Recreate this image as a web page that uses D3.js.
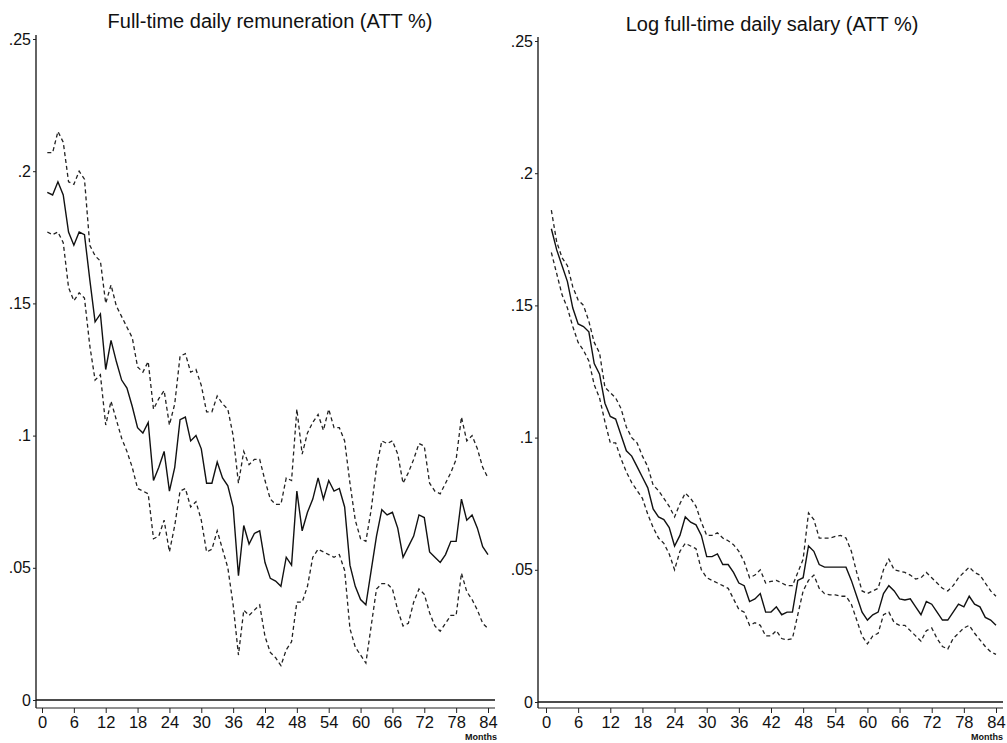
<!DOCTYPE html>
<html>
<head>
<meta charset="utf-8">
<script src="https://cdn.jsdelivr.net/npm/d3@7"></script>
<style>
  html, body { margin: 0; padding: 0; background: #fff; }
  svg { display: block; }
  text { font-family: "Liberation Sans", Arial, Helvetica, sans-serif; fill: #111; }
</style>
</head>
<body>
<svg id="chart" width="1007" height="743"></svg>
<script>
// ---------- DATA ----------
const months = [1,2,3,4,5,6,7,8,9,10,11,12,13,14,15,16,17,18,19,20,21,22,23,24,25,26,27,28,29,30,
  31,32,33,34,35,36,37,38,39,40,41,42,43,44,45,46,47,48,49,50,51,52,53,54,55,56,57,58,59,60,
  61,62,63,64,65,66,67,68,69,70,71,72,73,74,75,76,77,78,79,80,81,82,83,84];
const xTickValues = [0,6,12,18,24,30,36,42,48,54,60,66,72,78,84];
const yTickValues = [0,0.05,0.1,0.15,0.2,0.25];
const titles = ["Full-time daily remuneration (ATT %)", "Log full-time daily salary (ATT %)"];
const xAxisLabel = "Months";

// Left panel: Full-time daily remuneration
const remEst = [0.192,0.191,0.196,0.191,0.177,0.172,0.177,0.176,0.159,0.143,0.146,0.125,0.136,0.128,0.121,0.118,0.111,0.103,0.101,0.105,
  0.083,0.088,0.094,0.079,0.088,0.106,0.107,0.098,0.100,0.095,0.082,0.082,0.090,0.084,0.081,0.073,0.047,0.066,0.059,0.063,
  0.064,0.052,0.046,0.045,0.043,0.054,0.051,0.079,0.064,0.071,0.076,0.084,0.076,0.083,0.079,0.080,0.073,0.051,0.043,0.038,
  0.036,0.049,0.062,0.072,0.070,0.071,0.065,0.054,0.058,0.062,0.070,0.069,0.056,0.054,0.052,0.055,0.060,0.060,0.076,0.068,
  0.070,0.065,0.058,0.055];
const remUpper = [0.207,0.207,0.215,0.211,0.196,0.195,0.200,0.197,0.172,0.168,0.166,0.150,0.157,0.149,0.145,0.141,0.137,0.126,0.124,0.128,
  0.110,0.114,0.117,0.104,0.112,0.130,0.131,0.124,0.125,0.119,0.109,0.109,0.115,0.112,0.110,0.100,0.082,0.094,0.089,0.091,
  0.091,0.083,0.076,0.074,0.074,0.084,0.083,0.110,0.093,0.101,0.105,0.108,0.102,0.110,0.103,0.103,0.098,0.082,0.068,0.061,
  0.060,0.072,0.088,0.098,0.097,0.098,0.093,0.082,0.086,0.091,0.097,0.096,0.082,0.079,0.078,0.082,0.086,0.091,0.107,0.098,
  0.100,0.095,0.088,0.084];
const remLower = [0.177,0.176,0.177,0.173,0.156,0.151,0.154,0.152,0.134,0.121,0.123,0.104,0.113,0.106,0.099,0.094,0.088,0.080,0.079,0.078,
  0.061,0.062,0.068,0.056,0.066,0.079,0.080,0.073,0.075,0.068,0.056,0.057,0.064,0.057,0.050,0.036,0.017,0.034,0.032,0.034,
  0.036,0.024,0.018,0.016,0.013,0.019,0.022,0.037,0.037,0.043,0.054,0.057,0.056,0.055,0.054,0.055,0.049,0.027,0.020,0.017,
  0.014,0.028,0.042,0.044,0.044,0.042,0.034,0.028,0.029,0.037,0.042,0.040,0.033,0.028,0.026,0.029,0.032,0.032,0.048,0.041,
  0.038,0.034,0.029,0.027];

// Right panel: Log full-time daily salary
const salEst = [0.179,0.171,0.165,0.159,0.149,0.143,0.142,0.140,0.128,0.124,0.113,0.108,0.107,0.101,0.095,0.093,0.089,0.085,0.081,0.073,
  0.070,0.069,0.066,0.059,0.063,0.070,0.068,0.067,0.063,0.055,0.055,0.056,0.052,0.052,0.049,0.045,0.044,0.038,0.039,0.041,
  0.034,0.034,0.036,0.033,0.034,0.034,0.046,0.047,0.059,0.057,0.052,0.051,0.051,0.051,0.051,0.051,0.046,0.040,0.034,0.031,
  0.033,0.034,0.041,0.044,0.042,0.039,0.0386,0.039,0.036,0.033,0.038,0.037,0.034,0.031,0.031,0.034,0.037,0.036,0.040,0.037,
  0.036,0.032,0.031,0.029];
const salUpper = [0.186,0.174,0.168,0.165,0.157,0.152,0.150,0.144,0.136,0.132,0.119,0.117,0.115,0.111,0.104,0.100,0.098,0.093,0.089,0.082,
  0.080,0.077,0.074,0.070,0.075,0.079,0.077,0.074,0.068,0.063,0.063,0.064,0.062,0.061,0.0595,0.057,0.053,0.047,0.048,0.050,
  0.045,0.0456,0.046,0.045,0.044,0.044,0.049,0.054,0.0715,0.069,0.062,0.062,0.062,0.0626,0.063,0.062,0.057,0.049,0.042,0.041,
  0.042,0.043,0.050,0.054,0.050,0.0495,0.049,0.048,0.0465,0.047,0.049,0.047,0.045,0.043,0.042,0.044,0.047,0.049,0.051,0.049,
  0.048,0.045,0.042,0.040];
const salLower = [0.170,0.162,0.154,0.149,0.142,0.136,0.133,0.129,0.120,0.115,0.106,0.098,0.098,0.092,0.087,0.083,0.080,0.077,0.071,0.066,
  0.062,0.060,0.056,0.050,0.057,0.060,0.059,0.058,0.050,0.047,0.046,0.045,0.044,0.043,0.039,0.035,0.034,0.029,0.030,0.029,
  0.025,0.025,0.027,0.024,0.0235,0.024,0.033,0.042,0.046,0.048,0.043,0.041,0.0405,0.0405,0.040,0.040,0.037,0.031,0.025,0.022,
  0.025,0.026,0.033,0.034,0.030,0.029,0.029,0.027,0.025,0.023,0.027,0.028,0.024,0.021,0.020,0.024,0.026,0.028,0.029,0.026,
  0.0235,0.021,0.019,0.018];

// ---------- DRAW ----------
const svg = d3.select("#chart");

const panels = [
  { title: titles[0], est: remEst, up: remUpper, lo: remLower,
    axisX: 36, xr: [42, 488], yr: [700, 39], axisY: 708, right: 495, yTop: 35,
    titleX: 270, titleY: 28, monthsX: 497 },
  { title: titles[1], est: salEst, up: salUpper, lo: salLower,
    axisX: 538, xr: [546, 996], yr: [702, 41], axisY: 708, right: 1003, yTop: 37,
    titleX: 772, titleY: 31, monthsX: 1003 }
];

const fmtY = d => d === 0 ? "0" : d3.format(".2~f")(d).replace(/^0/, "");

panels.forEach(p => {
  const x = d3.scaleLinear().domain([0, 84]).range(p.xr);
  const y = d3.scaleLinear().domain([0, 0.25]).range(p.yr);
  const g = svg.append("g");

  // title
  g.append("text")
    .attr("x", p.titleX).attr("y", p.titleY)
    .attr("text-anchor", "middle")
    .style("font-size", "20px")
    .text(p.title);

  // y axis
  const ya = g.append("g")
    .attr("transform", `translate(${p.axisX},0)`)
    .call(d3.axisLeft(y).tickValues(yTickValues).tickFormat(fmtY).tickSize(3).tickPadding(2));
  ya.select(".domain").remove();
  ya.selectAll(".tick line").attr("stroke", "#222");
  ya.selectAll(".tick text").style("font-size", "16px")
    .style("font-family", "'Liberation Sans', Arial, sans-serif").attr("fill", "#111");
  g.append("line")
    .attr("x1", p.axisX).attr("x2", p.axisX)
    .attr("y1", p.yTop).attr("y2", p.axisY)
    .attr("stroke", "#222").attr("stroke-width", 1.4);

  // x axis
  const xa = g.append("g")
    .attr("transform", `translate(0,${p.axisY})`)
    .call(d3.axisBottom(x).tickValues(xTickValues).tickFormat(d3.format("d")).tickSize(5).tickPadding(3));
  xa.select(".domain").remove();
  xa.selectAll(".tick line").attr("stroke", "#222");
  xa.selectAll(".tick text").style("font-size", "16.5px")
    .style("font-family", "'Liberation Sans', Arial, sans-serif").attr("fill", "#111");
  g.append("line")
    .attr("x1", p.axisX).attr("x2", p.right)
    .attr("y1", p.axisY).attr("y2", p.axisY)
    .attr("stroke", "#222").attr("stroke-width", 1.2);

  // zero reference line
  g.append("line")
    .attr("x1", p.axisX).attr("x2", p.right)
    .attr("y1", y(0)).attr("y2", y(0))
    .attr("stroke", "#111").attr("stroke-width", 1.6);

  // "Months" label
  g.append("text")
    .attr("x", p.monthsX).attr("y", 740)
    .attr("text-anchor", "end")
    .style("font-size", "9px")
    .style("font-weight", "bold")
    .text(xAxisLabel);

  const line = d3.line().x((d, i) => x(months[i])).y(d => y(d));

  g.append("path").datum(p.up).attr("d", line)
    .attr("fill", "none").attr("stroke", "#222").attr("stroke-width", 1.3)
    .attr("stroke-dasharray", "4,3");
  g.append("path").datum(p.lo).attr("d", line)
    .attr("fill", "none").attr("stroke", "#222").attr("stroke-width", 1.3)
    .attr("stroke-dasharray", "4,3");
  g.append("path").datum(p.est).attr("d", line)
    .attr("fill", "none").attr("stroke", "#111").attr("stroke-width", 1.4);
});
</script>
</body>
</html>
